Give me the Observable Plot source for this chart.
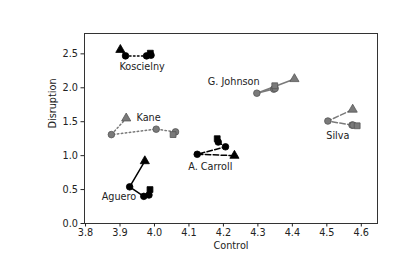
<!DOCTYPE html>
<html>
<head>
<meta charset="utf-8">
<script src="https://cdn.jsdelivr.net/npm/d3@7"></script>
<script src="https://cdn.jsdelivr.net/npm/@observablehq/plot@0.6"></script>
<style>
  body { margin: 0; background: #fff; }
  svg { font-family: "DejaVu Sans", sans-serif; }
</style>
</head>
<body>
<div id="chart"></div>
<script>
// ---- data ----
const players = ["Koscielny", "Kane", "G. Johnson", "Silva", "A. Carroll", "Aguero"];
const playerColor = ["black", "gray", "gray", "gray", "black", "black"];
const playerLine = ["dotted", "dotted", "solid", "dashed", "dashed", "solid"];
// each player: 5 points, markers in this order
const markerOrder = ["triangle", "circle", "circle", "circle", "square"];
const controlValues = [
  [3.901, 3.916, 3.977, 3.990, 3.988], // Koscielny
  [3.918, 3.875, 4.005, 4.061, 4.054], // Kane
  [4.406, 4.297, 4.346, 4.350, 4.349], // G. Johnson
  [4.575, 4.503, 4.573, 4.576, 4.588], // Silva
  [4.232, 4.124, 4.206, 4.185, 4.182], // A. Carroll
  [3.972, 3.928, 3.969, 3.984, 3.987]  // Aguero
];
const disruptionValues = [
  [2.56, 2.47, 2.47, 2.48, 2.51],
  [1.55, 1.31, 1.39, 1.35, 1.31],
  [2.13, 1.92, 1.98, 1.99, 2.03],
  [1.68, 1.51, 1.45, 1.45, 1.44],
  [1.00, 1.02, 1.13, 1.20, 1.25],
  [0.92, 0.54, 0.40, 0.42, 0.50]
];
// label anchors (data coordinates)
const labelControl = [3.964, 3.983, 4.230, 4.532, 4.162, 3.897];
const labelDisruption = [2.31, 1.55, 2.09, 1.29, 0.84, 0.39];
const xTicks = [3.8, 3.9, 4.0, 4.1, 4.2, 4.3, 4.4, 4.5, 4.6];
const yTicks = [0.0, 0.5, 1.0, 1.5, 2.0, 2.5];

// ---- build table ----
const points = [];
players.forEach((p, i) => {
  markerOrder.forEach((m, j) => {
    points.push({player: p, idx: i, order: j, marker: m,
      control: controlValues[i][j], disruption: disruptionValues[i][j]});
  });
});
const labels = players.map((p, i) => ({player: p, control: labelControl[i], disruption: labelDisruption[i]}));

const colorOf = {black: "#000000", gray: "#7a7a7a"};
const dashOf = {dotted: "1.5,2.5", dashed: "5.5,2.4", solid: null};

const lineMarks = players.map((p, i) => Plot.line(points.filter(d => d.idx === i), {
  x: "control", y: "disruption",
  stroke: colorOf[playerColor[i]],
  strokeWidth: 1.5,
  strokeDasharray: dashOf[playerLine[i]]
}));

const dotMarks = [];
players.forEach((p, i) => {
  const col = colorOf[playerColor[i]];
  const edge = playerColor[i] === "gray" ? "#555" : "#000";
  [["circle", 3.3], ["square", 3.3], ["triangle", 3.4]].forEach(([sym, r]) => {
    dotMarks.push(Plot.dot(points.filter(d => d.idx === i && d.marker === sym), {
      x: "control", y: "disruption", symbol: sym, r,
      fill: col, stroke: edge, strokeWidth: 0.8
    }));
  });
});

const chart = Plot.plot({
  width: 420,
  height: 280,
  marginLeft: 84,
  marginRight: 43,
  marginTop: 33,
  marginBottom: 57,
  style: {fontFamily: "DejaVu Sans, sans-serif", fontSize: "9.7px", background: "#fff", color: "#222"},
  x: {domain: [3.797, 4.647]},
  y: {domain: [0, 2.8]},
  marks: [
    Plot.frame({stroke: "#333", strokeWidth: 1}),
    Plot.axisX({ticks: xTicks, tickFormat: d => d.toFixed(1), tickSize: 3.5, tickPadding: 2, label: null, fontSize: 9.7}),
    Plot.axisY({ticks: yTicks, tickFormat: d => d.toFixed(1), tickSize: 3.5, tickPadding: 3, label: null, fontSize: 9.7}),
    Plot.text(["Control"], {frameAnchor: "bottom", text: d => d, dy: 25, fontSize: 9.7, fill: "#222"}),
    Plot.text(["Disruption"], {frameAnchor: "left", text: d => d, dx: -32, rotate: -90, fontSize: 9.7, fill: "#222"}),
    ...lineMarks,
    ...dotMarks,
    Plot.text(labels, {x: "control", y: "disruption", text: "player", fontSize: 9.7, fill: "#222"})
  ]
});
document.getElementById("chart").appendChild(chart);
</script>
</body>
</html>
